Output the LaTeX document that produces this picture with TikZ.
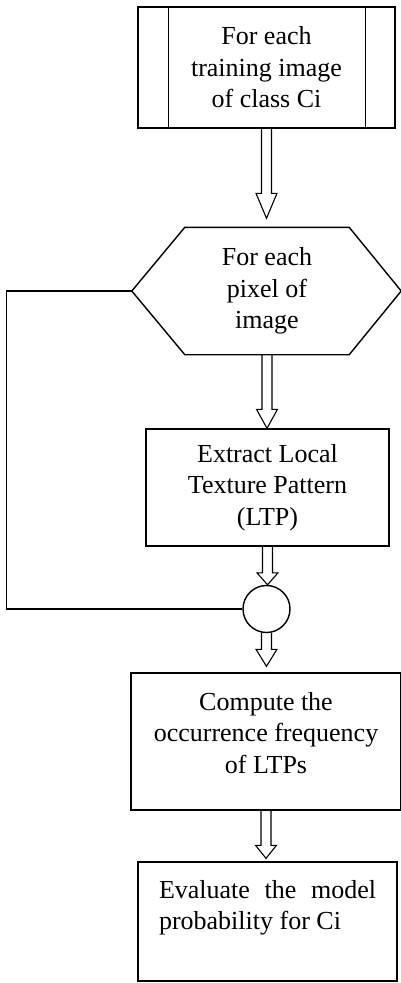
\documentclass[tikz,border=0pt]{standalone}
\usepackage{fontspec}
\setmainfont{Liberation Serif}
\usepackage{tikz}
\usetikzlibrary{positioning,calc}
\tikzstyle{every box} = [font=\fontsize{26}{31.5}\selectfont]
\tikzstyle{box} = [draw, line width=1.4pt, rectangle, align=center, every box]
\tikzstyle{fat} = [draw, line width=1.1pt, line join=miter]
\newcommand{\fatarrow}[4]{%
  \draw[fat] let \p1=(#1.south), \p2=(#2.north) in
    (\x1-5pt,\y1) -- (\x1-5pt,\y2+#3+#4) -- (\x1-10.5pt,\y2+#3+#4) -- (\x1,\y2+#3)
    -- (\x1+10.5pt,\y2+#3+#4) -- (\x1+5pt,\y2+#3+#4) -- (\x1+5pt,\y1);}

\begin{document}
\begin{tikzpicture}[x=1pt, y=-1pt]
                    \useasboundingbox (0,0) rectangle (401,983);
                    \node[box, minimum width=257pt, minimum height=121pt] (train) at (266.5,67.5)
                        {For each\\training image\\of class Ci};
                    \draw[line width=1.4pt] ([xshift=31pt]train.north west) -- ([xshift=31pt]train.south west);
                    \draw[line width=1.4pt] ([xshift=-30pt]train.north east) -- ([xshift=-30pt]train.south east);

                    \node[box, draw=none, minimum width=163pt, minimum height=126pt] (pixel) at (267,291)
                        {For each\\pixel of\\image};
                    \coordinate (pixtip) at ([xshift=-53pt]pixel.west);
                    \draw[line width=1.4pt] (pixel.north west) -- (pixel.north east) -- ([xshift=52pt]pixel.east)
                        -- (pixel.south east) -- (pixel.south west) -- (pixtip) -- cycle;

                    \node[box, minimum width=243pt, minimum height=117pt] (extract) at (267.5,487.5)
                        {Extract Local\\Texture Pattern\\(LTP)};
                    \node[draw, circle, line width=1.4pt, minimum size=47pt, inner sep=0pt] (junc) at (266.5,609) {};

                    \node[box, inner sep=0pt] (occur) at (266,741.5)
                        {\parbox[c][137pt][t]{270pt}{\vspace*{19pt}\centering Compute the\\occurrence frequency\\of LTPs}};
                    \node[box, inner xsep=21pt, inner ysep=0pt] (eval) at (267.5,921.5)
                        {\parbox[c][119pt][t]{217pt}{\vspace*{18pt}\makebox[217pt][s]{Evaluate the model}\\probability for Ci}};

                    \coordinate (loopcorner) at ([xshift=-125.5pt]pixtip);
                    \draw[line width=1.4pt] (pixtip) -- (loopcorner) |- (junc.west);

                    \fatarrow{train}{pixel}{9pt}{25pt}
                    \fatarrow{pixel}{extract}{0pt}{19pt}
                    \fatarrow{extract}{junc}{0pt}{12pt}
                    \fatarrow{junc}{occur}{6pt}{17pt}
                    \fatarrow{occur}{eval}{3pt}{13pt}
                \end{tikzpicture}
\end{document}
